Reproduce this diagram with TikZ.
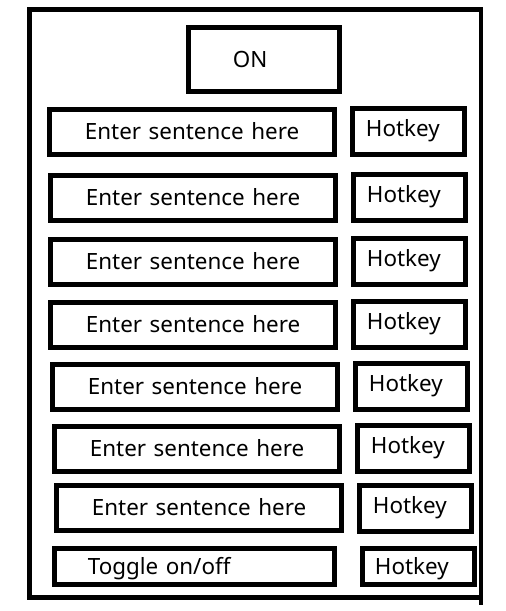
\documentclass[tikz,border=0pt]{standalone}
\usepackage{fontspec}
\setmainfont{Noto Sans}

\tikzset{
  panel/.style={line width=4.7pt},
  indent/.code={\def\boxindent{#1}},
  box/.style={draw, line width=4.7pt, anchor=north west, align=left,
    inner sep=0pt, text height=16pt, text depth=0pt, indent=0pt,
    execute at begin node={\hspace*{\boxindent}},
    font=\fontsize{22.4}{26}\selectfont},
  sentence/.style={box, text width=285.3pt, indent=35.6pt, minimum height=45pt},
  hotkey/.style={box, text width=112.3pt, indent=13.6pt, minimum height=46pt, text depth=5pt},
}

\begin{document}
\begin{tikzpicture}[x=1pt,y=-1pt]
    \useasboundingbox (0,0) rectangle (506,611);
    % outer frame
    \draw[panel] (29.5,9.5) rectangle (481,597.5);
    \draw[panel] (481,597.5) -- +(0,7);
    % switch on top
    \node[box, text width=151.3pt, indent=44.6pt, minimum height=64.3pt] (on) at (186,25) {ON};
    % one row per sentence
    \foreach \n/\xa/\ya/\xb/\yb in {1/47/107/350/106, 2/48/173/351/172, 3/48/237/351/236,
        4/48/300/351/299, 5/50/362/353/361, 6/52/424/355/423, 7/54/483/357/483}
    {
    \node[sentence] (s\n) at (\xa,\ya) {Enter sentence here};
    \node[hotkey] (h\n) at (\xb,\yb) {Hotkey};
    }
    % last row
    \node[box, text width=280.3pt, indent=33.6pt, minimum height=36.3pt] (toggle) at (52,546) {Toggle on/off};
    \node[hotkey, text width=112pt, indent=12.6pt, minimum height=36.3pt, text depth=0pt] (h8) at (360,546) {Hotkey};
\end{tikzpicture}
\end{document}
